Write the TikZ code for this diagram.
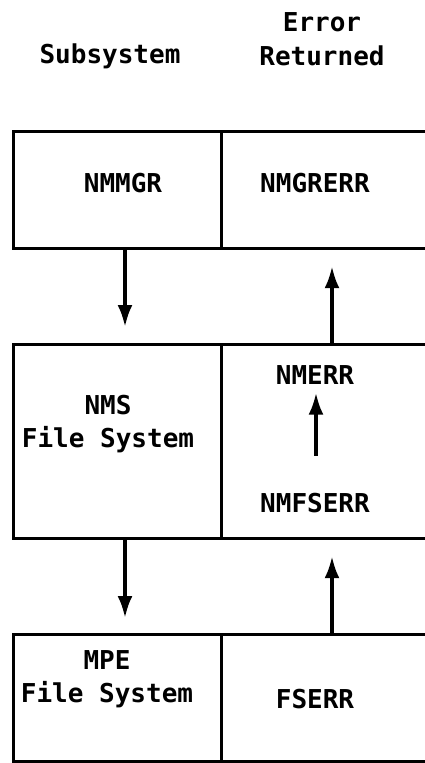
\documentclass[tikz,border=0pt]{standalone}
\usepackage{fontspec}
\setmonofont{DejaVu Sans Mono}
\usetikzlibrary{arrows.meta}
\tikzset{
  cell/.style={draw, line width=3.2pt, anchor=north west, inner sep=0pt},
  lbl/.style={font=\ttfamily\bfseries\fontsize{26}{30}\selectfont, inner sep=0pt, align=center},
  arr/.style={line width=3.6pt, -{Latex[length=22pt,width=15pt]}}
}
\begin{document}
\begin{tikzpicture}[x=1pt,y=-1pt]
\useasboundingbox (0,0) rectangle (425,763);
\clip (0,0) rectangle (425,763);
% headings
\node[lbl] (hsub) at (110,56) {Subsystem};
\node[lbl] (herr) at (322,22) {Error};
\node[lbl] (hret) at (322,56) {Returned};
% row 1
\node[cell, minimum width=208pt, minimum height=117pt] (l1) at (12,130) {};
\node[cell, minimum width=215pt, minimum height=117pt] (r1) at (220,130) {};
\node[lbl] (nmmgr) at (123,183) {NMMGR};
\node[lbl] (nmgrerr) at (315,183) {NMGRERR};
% row 2
\node[cell, minimum width=208pt, minimum height=194pt] (l2) at (12,343) {};
\node[cell, minimum width=215pt, minimum height=194pt] (r2) at (220,343) {};
\node[lbl] (nms) at (108,424) {NMS\\[3pt]File System};
\node[lbl] (nmerr) at (315,375) {NMERR};
\node[lbl] (nmfserr) at (315,503) {NMFSERR};
% row 3
\node[cell, minimum width=208pt, minimum height=127pt] (l3) at (12,633) {};
\node[cell, minimum width=215pt, minimum height=127pt] (r3) at (220,633) {};
\node[lbl] (mpe) at (107,679) {MPE\\[3pt]File System};
\node[lbl] (fserr) at (315,699) {FSERR};
% arrows
\draw[arr] (l1.south -| 125,0) -- ([yshift=16pt]l2.north -| 125,0);
\draw[arr] (r2.north -| 332,0) -- ([yshift=-16pt]r1.south -| 332,0);
\draw[arr] ([yshift=37pt]nmfserr.north -| 316,0) -- ([yshift=-8pt]nmerr.south -| 316,0);
\draw[arr] (l2.south -| 125,0) -- ([yshift=15pt]l3.north -| 125,0);
\draw[arr] (r3.north -| 332,0) -- ([yshift=-16pt]r2.south -| 332,0);
\end{tikzpicture}
\end{document}
